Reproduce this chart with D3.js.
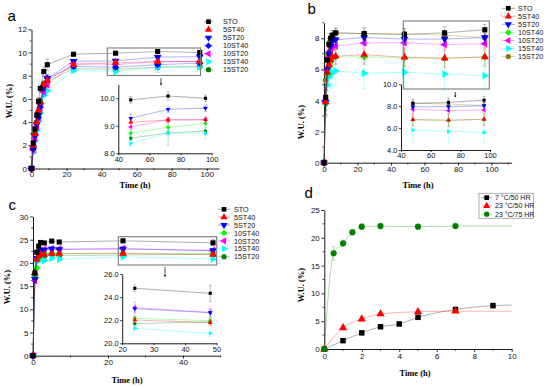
<!DOCTYPE html>
<html>
<head>
<meta charset="utf-8">
<script src="https://cdn.jsdelivr.net/npm/d3@7"></script>
<style>
body { margin: 0; background: #fff; }
svg { display: block; }
</style>
</head>
<body>
<svg id="chart" width="550" height="389"></svg>
<script>
// ---- data ---------------------------------------------------------------
const names = ['STO', '5ST40', '5ST20', '10ST40', '10ST20', '15ST40', '15ST20'];

// panel a
const timesA = [0, 1, 2, 3, 4, 5, 7, 9, 24, 48, 72, 96];
const valsA = {
  'STO':    [0, 2.2, 3.4, 4.6, 5.8, 6.9, 8.35, 8.95, 9.85, 9.94, 10.08, 10.0],
  '5ST40':  [0, 2.0, 3.0, 4.0, 5.0, 5.7, 7.2, 7.6, 8.95, 9.13, 9.21, 9.22],
  '5ST20':  [0, 1.8, 2.8, 3.8, 4.6, 5.5, 7.0, 7.75, 9.25, 9.27, 9.6, 9.64],
  '10ST40': [0, 1.7, 2.9, 3.9, 4.4, 5.3, 7.1, 7.8, 8.8, 8.73, 8.95, 9.08],
  '10ST20': [0, 1.6, 2.6, 3.6, 4.4, 5.2, 6.6, 7.2, 9.05, 8.96, 9.22, 9.22],
  '15ST40': [0, 1.4, 2.4, 3.3, 4.1, 4.8, 6.3, 6.7, 8.45, 8.36, 8.73, 8.73],
  '15ST20': [0, 1.7, 3.0, 4.0, 4.9, 5.8, 7.3, 7.5, 8.6, 8.55, 8.74, 8.81]
};
const errA = {
  'STO':    [0, 0.2, 0.2, 0.2, 0.3, 0.3, 0.4, 0.5, 0.15, 0.12, 0.15, 0.12],
  '5ST40':  [0, 0.15, 0.15, 0.2, 0.2, 0.2, 0.3, 0.3, 0.15, 0.1, 0.1, 0.1],
  '5ST20':  [0, 0.15, 0.15, 0.2, 0.2, 0.3, 0.3, 0.3, 0.15, 0.15, 0.12, 0.12],
  '10ST40': [0, 0.15, 0.15, 0.2, 0.2, 0.3, 0.3, 0.3, 0.15, 0.12, 0.12, 0.1],
  '10ST20': [0, 0.15, 0.2, 0.2, 0.3, 0.3, 0.4, 0.4, 0.15, 0.15, 0.1, 0.1],
  '15ST40': [0, 0.2, 0.2, 0.2, 0.3, 0.3, 0.4, 0.4, 0.15, 0.12, 0.15, 0.2],
  '15ST20': [0, 0.15, 0.2, 0.2, 0.3, 0.3, 0.3, 0.3, 0.15, 0.1, 0.45, 0.12]
};

// panel b
const timesB = [0, 1, 2, 3, 4, 5, 7, 24, 48, 72, 96];
const valsB = {
  'STO':    [0, 4.2, 6.6, 7.6, 8.0, 8.2, 8.35, 8.3, 8.25, 8.35, 8.55],
  '5ST40':  [0, 3.9, 5.8, 6.3, 6.6, 6.8, 6.85, 6.95, 6.78, 6.72, 6.8],
  '5ST20':  [0, 3.9, 6.0, 7.0, 7.5, 7.8, 7.9, 8.05, 7.95, 7.95, 8.05],
  '10ST40': [0, 3.8, 5.7, 6.2, 6.5, 6.7, 6.8, 6.8, 6.75, 6.7, 6.8],
  '10ST20': [0, 3.9, 5.9, 6.8, 7.2, 7.4, 7.5, 7.7, 7.72, 7.6, 7.65],
  '15ST40': [0, 3.9, 5.0, 5.5, 5.7, 5.8, 5.9, 5.75, 5.82, 5.7, 5.6],
  '15ST20': [0, 5.3, 6.9, 7.7, 8.0, 8.2, 8.35, 8.3, 8.28, 8.2, 8.05]
};
const errB = {
  'STO':    [0, 0.8, 0.5, 0.4, 0.3, 0.3, 0.3, 0.4, 0.4, 0.4, 0.35],
  '5ST40':  [0, 0.8, 0.6, 0.5, 0.5, 0.5, 0.5, 0.6, 0.6, 0.6, 0.6],
  '5ST20':  [0, 0.8, 0.5, 0.4, 0.4, 0.4, 0.4, 0.4, 0.4, 0.4, 0.4],
  '10ST40': [0, 0.8, 0.6, 0.5, 0.5, 0.5, 0.5, 0.5, 0.5, 0.5, 0.5],
  '10ST20': [0, 0.9, 0.6, 0.6, 0.6, 0.6, 0.6, 0.7, 0.7, 0.7, 0.7],
  '15ST40': [0, 1.0, 0.9, 0.9, 0.9, 0.9, 0.9, 1.0, 1.1, 1.1, 1.0],
  '15ST20': [0, 0.6, 0.4, 0.3, 0.3, 0.3, 0.3, 0.3, 0.3, 0.3, 0.3]
};

// panel c
const timesC = [0, 0.5, 1, 1.5, 2, 3, 5, 7, 24, 48];
const valsC = {
  'STO':    [0, 17.8, 22.3, 23.6, 24.4, 24.3, 24.7, 24.5, 24.76, 24.33],
  '5ST40':  [0, 17.9, 20.8, 21.5, 21.8, 21.8, 22.0, 22.0, 22.02, 21.79],
  '5ST20':  [0, 16.5, 21.0, 22.3, 22.6, 22.8, 23.0, 22.9, 23.0, 22.65],
  '10ST40': [0, 17.2, 18.9, 21.0, 21.8, 22.0, 22.1, 22.0, 22.16, 21.96],
  '10ST20': [0, 16.2, 21.0, 22.4, 22.7, 22.9, 23.1, 23.0, 23.08, 22.68],
  '15ST40': [0, 16.7, 20.2, 20.5, 20.8, 20.5, 21.0, 20.8, 21.3, 20.86],
  '15ST20': [0, 16.7, 20.6, 20.9, 21.2, 21.5, 21.8, 21.6, 21.7, 21.87]
};
const errC = {
  'STO':    [0, 0.5, 0.4, 0.3, 0.3, 0.3, 0.3, 0.3, 0.3, 0.7],
  '5ST40':  [0, 0.5, 0.3, 0.3, 0.3, 0.3, 0.3, 0.3, 0.3, 0.3],
  '5ST20':  [0, 0.5, 0.3, 0.3, 0.3, 0.3, 0.3, 0.3, 0.3, 0.3],
  '10ST40': [0, 0.5, 0.4, 0.3, 0.3, 0.3, 0.3, 0.3, 0.3, 0.3],
  '10ST20': [0, 0.5, 0.4, 0.3, 0.3, 0.3, 0.3, 0.3, 0.5, 0.4],
  '15ST40': [0, 0.5, 0.4, 0.3, 0.3, 0.3, 0.3, 0.3, 0.3, 0.3],
  '15ST20': [0, 0.5, 0.3, 0.3, 0.3, 0.3, 0.3, 0.3, 0.3, 0.3]
};

// panel d
const dLabels = ['7 \u00B0C/50 HR', '23 \u00B0C/50 HR', '23 \u00B0C/75 HR'];
const timesD7 = [0, 1, 2, 3, 4, 5, 7, 9];
const valsD7 = [0, 1.5, 2.9, 4.0, 4.5, 5.7, 7.1, 7.8];
const errD7 = [0, 0.2, 0.3, 0.3, 0.3, 0.4, 0.5, 0.4];
const timesD23 = [0, 1, 2, 3, 5, 7];
const valsD23 = [0, 3.8, 5.4, 6.3, 6.7, 6.8];
const errD23 = [0, 0.3, 0.3, 0.3, 0.3, 0.3];
const timesD75 = [0, 0.5, 1, 1.5, 2, 3, 5, 7];
const valsD75 = [0, 17.2, 19.0, 21.0, 22.0, 22.1, 22.0, 22.1];
const errD75 = [0, 1.2, 0.6, 0.5, 0.5, 0.5, 0.4, 0.4];
const dCurveEnd = [7.9, 6.8, 22.1]; // level of each curve at t = 10

// ---- styles ----------------------------------------------------------------
const sans = '"Liberation Sans", Arial, sans-serif';
const serif = '"Liberation Serif", "Times New Roman", serif';

const shapes = {
  'STO':    { sym: d3.symbolSquare, rot: 0 },
  '5ST40':  { sym: d3.symbolTriangle, rot: 0 },
  '5ST20':  { sym: d3.symbolTriangle, rot: 180 },
  '10ST40': { sym: d3.symbolSquare, rot: 45 },
  '10ST20': { sym: d3.symbolTriangle, rot: -90 },
  '15ST40': { sym: d3.symbolTriangle, rot: 90 },
  '15ST20': { sym: d3.symbolCircle, rot: 0 }
};
const colorsA = { 'STO': '#000000', '5ST40': '#ff0000', '5ST20': '#0000ff', '10ST40': '#0000ff',
  '10ST20': '#ff00ff', '15ST40': '#00ffff', '15ST20': '#008000' };
const insetColorsA = Object.assign({}, colorsA, { '10ST40': '#00ff00' });
const colorsB = Object.assign({}, colorsA, { '10ST40': '#00ff00', '15ST20': '#808000' });
const colorsC = Object.assign({}, colorsA, { '10ST40': '#00ff00' });

const svg = d3.select('#chart');

// ---- helpers -----------------------------------------------------------------
function axes(g, x, y, o) {
  const fs = o.fs || 8;
  const ts = o.ts || 3;
  const gx = g.append('g').attr('transform', 'translate(0,' + y.range()[0] + ')')
    .call(d3.axisBottom(x).tickValues(o.xt).tickSize(o.xts || ts).tickSizeOuter(0).tickPadding(o.xpad != null ? o.xpad : 1));
  const gy = g.append('g').attr('transform', 'translate(' + x.range()[0] + ',0)')
    .call(d3.axisLeft(y).tickValues(o.yt).tickSize(ts).tickSizeOuter(0).tickPadding(1.5));
  if (o.xm) {
    gx.selectAll('line.minor').data(o.xm).join('line').attr('class', 'minor')
      .attr('x1', d => x(d)).attr('x2', d => x(d)).attr('y1', 0).attr('y2', ts * 0.6)
      .attr('stroke', '#000').attr('stroke-width', 0.7);
  }
  if (o.ym) {
    gy.selectAll('line.minor').data(o.ym).join('line').attr('class', 'minor')
      .attr('y1', d => y(d)).attr('y2', d => y(d)).attr('x1', 0).attr('x2', -ts * 0.6)
      .attr('stroke', '#000').attr('stroke-width', 0.7);
  }
  [gx, gy].forEach(a => {
    a.selectAll('text').style('font-family', sans).style('font-size', fs + 'px').attr('fill', '#111');
    a.select('.domain').attr('stroke', '#000').attr('stroke-width', 0.9);
    a.selectAll('.tick line').attr('stroke-width', 0.8);
  });
}

function titles(g, o) {
  g.append('text').attr('transform', 'translate(' + o.yx + ',' + o.yy + ') rotate(-90)')
    .attr('text-anchor', 'middle').style('font-family', serif).style('font-weight', 'bold')
    .style('font-size', '8.5px').text('W.U. (%)');
  g.append('text').attr('x', o.xx).attr('y', o.xy)
    .attr('text-anchor', 'middle').style('font-family', serif).style('font-weight', 'bold')
    .style('font-size', '8.5px').text('Time (h)');
  g.append('text').attr('x', o.lx).attr('y', o.ly)
    .style('font-family', sans).style('font-size', '15px').text(o.letter);
}

function drawSeries(g, x, y, times, vals, errs, color, shape, size, opt) {
  opt = opt || {};
  const pts = times.map((t, i) => ({ t: t, v: vals[i], e: errs ? errs[i] : 0 }))
    .filter(p => !opt.minT || p.t >= opt.minT);
  const line = d3.line().x(p => x(p.t)).y(p => y(p.v));
  if (opt.curve) line.curve(opt.curve);
  const linePts = opt.tail ? pts.concat([opt.tail]) : pts;
  g.append('path').datum(linePts).attr('d', line)
    .attr('fill', 'none').attr('stroke', color).attr('stroke-opacity', 0.35).attr('stroke-width', 0.9);
  const cap = opt.cap || 1.5;
  const eb = g.append('g').attr('stroke', color).attr('stroke-opacity', 0.3).attr('stroke-width', 0.8);
  pts.filter(p => p.e > 0).forEach(p => {
    eb.append('line').attr('x1', x(p.t)).attr('x2', x(p.t)).attr('y1', y(p.v - p.e)).attr('y2', y(p.v + p.e));
    eb.append('line').attr('x1', x(p.t) - cap).attr('x2', x(p.t) + cap).attr('y1', y(p.v + p.e)).attr('y2', y(p.v + p.e));
    eb.append('line').attr('x1', x(p.t) - cap).attr('x2', x(p.t) + cap).attr('y1', y(p.v - p.e)).attr('y2', y(p.v - p.e));
  });
  const sym = d3.symbol().type(shape.sym).size(size);
  g.append('g').selectAll('path').data(pts).join('path')
    .attr('d', sym)
    .attr('transform', p => 'translate(' + x(p.t) + ',' + y(p.v) + ') rotate(' + shape.rot + ')')
    .attr('fill', color);
}

function legend(g, o, colors) {
  names.forEach((n, i) => {
    const yy = o.y0 + i * o.dy;
    g.append('line').attr('x1', o.lx1).attr('x2', o.lx2).attr('y1', yy).attr('y2', yy)
      .attr('stroke', colors[n]).attr('stroke-opacity', 0.4).attr('stroke-width', 0.9);
    g.append('path').attr('d', d3.symbol().type(shapes[n].sym).size(22)())
      .attr('transform', 'translate(' + o.mx + ',' + yy + ') rotate(' + shapes[n].rot + ')')
      .attr('fill', colors[n]);
    g.append('text').attr('x', o.tx).attr('y', yy + 2.6)
      .style('font-family', sans).style('font-size', '7.2px').attr('fill', '#111').text(n);
  });
}

function zoomBox(g, b) {
  g.append('rect').attr('x', b.x1).attr('y', b.y1).attr('width', b.x2 - b.x1).attr('height', b.y2 - b.y1)
    .attr('fill', 'none').attr('stroke', '#7a7a7a').attr('stroke-width', 1.1);
  g.append('line').attr('x1', b.ax).attr('x2', b.ax).attr('y1', b.ay1).attr('y2', b.ay2 - 1.5)
    .attr('stroke', '#000').attr('stroke-width', 0.7);
  g.append('path').attr('d', 'M' + (b.ax - 1.2) + ',' + (b.ay2 - 2) + 'L' + (b.ax + 1.2) + ',' + (b.ay2 - 2) + 'L' + b.ax + ',' + b.ay2 + 'Z')
    .attr('fill', '#000');
}

// ---- panel a -------------------------------------------------------------------
(function() {
  const g = svg.append('g');
  const x = d3.scaleLinear().domain([0, 107]).range([31.5, 219]);
  const y = d3.scaleLinear().domain([0, 12]).range([168.5, 29.3]);
  axes(g, x, y, { xt: [0, 20, 40, 60, 80, 100], xm: [10, 30, 50, 70, 90], xts: 2.5, xpad: 0,
    yt: [0, 2, 4, 6, 8, 10, 12], ym: [1, 3, 5, 7, 9, 11] });
  titles(g, { yx: 12, yy: 101, xx: 135, xy: 187.5, lx: 7.5, ly: 20.5, letter: 'a' });
  names.slice().reverse().forEach(n => drawSeries(g, x, y, timesA, valsA[n], errA[n], colorsA[n], shapes[n], 26, { cap: 2 }));
  zoomBox(g, { x1: 107.3, y1: 48, x2: 200.5, y2: 75.5, ax: 161, ay1: 78, ay2: 85.5 });
  legend(g, { y0: 21.7, dy: 8, lx1: 204, lx2: 213, mx: 208.5, tx: 223 }, colorsA);

  const xi = d3.scaleLinear().domain([40, 100]).range([118.3, 211.7]);
  const yi = d3.scaleLinear().domain([8, 10.5]).range([153.3, 84.5]);
  axes(g, xi, yi, { xt: [40, 60, 80, 100], yt: [8, 9, 10], fs: 7.5, ts: 2 });
  names.slice().reverse().forEach(n => drawSeries(g, xi, yi, timesA, valsA[n], errA[n], insetColorsA[n], shapes[n], 10, { minT: 40, cap: 1.5 }));
})();

// ---- panel b -------------------------------------------------------------------
(function() {
  const g = svg.append('g');
  const x = d3.scaleLinear().domain([0, 112]).range([324, 511.6]);
  const y = d3.scaleLinear().domain([0, 9]).range([162.7, 22.75]);
  axes(g, x, y, { xt: [0, 20, 40, 60, 80, 100], xm: [10, 30, 50, 70, 90, 110],
    yt: [0, 2, 4, 6, 8], ym: [1, 3, 5, 7, 9] });
  titles(g, { yx: 304, yy: 122, xx: 418, xy: 188, lx: 307.5, ly: 13.5, letter: 'b' });
  names.slice().reverse().forEach(n => drawSeries(g, x, y, timesB, valsB[n], errB[n], colorsB[n], shapes[n], 26, { cap: 2 }));
  zoomBox(g, { x1: 403.3, y1: 21, x2: 489.3, y2: 89, ax: 455.3, ay1: 92, ay2: 97.5 });
  legend(g, { y0: 8.3, dy: 8.05, lx1: 502, lx2: 515, mx: 508.3, tx: 518 }, colorsB);

  const xi = d3.scaleLinear().domain([40, 100]).range([401, 490]);
  const yi = d3.scaleLinear().domain([4, 10]).range([150, 84.3]);
  axes(g, xi, yi, { xt: [40, 60, 80, 100], yt: [4, 6, 8, 10], fs: 7.5, ts: 2 });
  names.slice().reverse().forEach(n => drawSeries(g, xi, yi, timesB, valsB[n], errB[n], colorsB[n], shapes[n], 10, { minT: 40, cap: 1.5 }));
})();

// ---- panel c -------------------------------------------------------------------
(function() {
  const g = svg.append('g');
  const x = d3.scaleLinear().domain([0, 50]).range([33, 220.5]);
  const y = d3.scaleLinear().domain([0, 30]).range([355.7, 216.5]);
  axes(g, x, y, { xt: [0, 20, 40], xm: [10, 30, 50],
    yt: [0, 5, 10, 15, 20, 25, 30], ym: [2.5, 7.5, 12.5, 17.5, 22.5, 27.5] });
  titles(g, { yx: 10, yy: 287, xx: 127, xy: 383, lx: 8.5, ly: 210, letter: 'c' });
  names.slice().reverse().forEach(n => drawSeries(g, x, y, timesC, valsC[n], errC[n], colorsC[n], shapes[n], 26, { cap: 2 }));
  zoomBox(g, { x1: 118.3, y1: 236.7, x2: 216.7, y2: 265, ax: 165, ay1: 267, ay2: 277 });
  legend(g, { y0: 209.3, dy: 7.9, lx1: 218, lx2: 230, mx: 224, tx: 234 }, colorsC);

  const xi = d3.scaleLinear().domain([20, 50]).range([122.2, 216.5]);
  const yi = d3.scaleLinear().domain([20, 26]).range([343.3, 274]);
  axes(g, xi, yi, { xt: [20, 30, 40, 50], yt: [20, 22, 24, 26], fs: 7.5, ts: 2 });
  names.slice().reverse().forEach(n => drawSeries(g, xi, yi, timesC, valsC[n], errC[n], colorsC[n], shapes[n], 10, { minT: 20, cap: 1.5 }));
})();

// ---- panel d -------------------------------------------------------------------
(function() {
  const g = svg.append('g');
  const x = d3.scaleLinear().domain([0, 10]).range([324.3, 511.7]);
  const y = d3.scaleLinear().domain([0, 25]).range([349, 210]);
  axes(g, x, y, { xt: [0, 2, 4, 6, 8, 10], xm: [1, 3, 5, 7, 9],
    yt: [0, 5, 10, 15, 20, 25], ym: [2.5, 7.5, 12.5, 17.5, 22.5] });
  titles(g, { yx: 304, yy: 285, xx: 415, xy: 376, lx: 304.5, ly: 197.5, letter: 'd' });
  const sets = [
    { t: timesD7, v: valsD7, e: errD7, c: '#000000', s: shapes['STO'] },
    { t: timesD23, v: valsD23, e: errD23, c: '#ff0000', s: shapes['5ST40'] },
    { t: timesD75, v: valsD75, e: errD75, c: '#008000', s: shapes['15ST20'] }
  ];
  sets.forEach((d, i) => drawSeries(g, x, y, d.t, d.v, d.e, d.c, d.s, 30,
    { cap: 2, curve: d3.curveMonotoneX, tail: { t: 10, v: dCurveEnd[i] } }));

  // legend box
  g.append('rect').attr('x', 479).attr('y', 193.3).attr('width', 54.3).attr('height', 25)
    .attr('fill', '#fff').attr('stroke', '#999').attr('stroke-width', 0.8);
  sets.forEach((d, i) => {
    const yy = 197.6 + i * 8.3;
    g.append('line').attr('x1', 481.5).attr('x2', 492).attr('y1', yy).attr('y2', yy)
      .attr('stroke', d.c).attr('stroke-opacity', 0.4).attr('stroke-width', 0.9);
    g.append('path').attr('d', d3.symbol().type(d.s.sym).size(22)())
      .attr('transform', 'translate(486.7,' + yy + ') rotate(' + d.s.rot + ')').attr('fill', d.c);
    g.append('text').attr('x', 495).attr('y', yy + 2.5)
      .style('font-family', sans).style('font-size', '7px').attr('fill', '#111').text(dLabels[i]);
  });
})();
</script>
</body>
</html>
